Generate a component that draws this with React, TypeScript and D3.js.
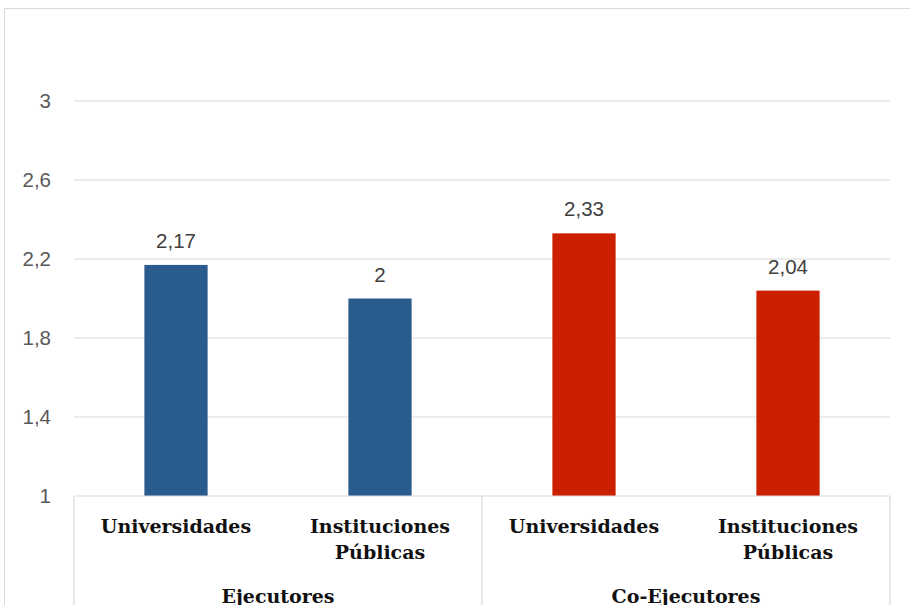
import React from "react";
import * as d3 from "d3";

const groups = ["Ejecutores", "Co-Ejecutores"];
const categories = ["Universidades", "Instituciones Públicas"];
const values = [2.17, 2.0, 2.33, 2.04];
const valueLabels = ["2,17", "2", "2,33", "2,04"];
const colors = ["#2a5b8d", "#2a5b8d", "#cc1f00", "#cc1f00"];
const yTicks = [1, 1.4, 1.8, 2.2, 2.6, 3];
const yTickLabels = ["1", "1,4", "1,8", "2,2", "2,6", "3"];

export default function App() {
  const W = 910, H = 605;
  const left = 74, right = 890, top = 101, bottom = 496;
  const y = d3.scaleLinear().domain([1, 3]).range([bottom, top]);
  const keys = d3.range(values.length).map(String);
  const x = d3.scaleBand().domain(keys).range([left, right]).paddingInner(0).paddingOuter(0);
  const bw = x.bandwidth() * 0.31;
  const groupWidth = (right - left) / groups.length;
  const sans = "'Liberation Sans', Arial, sans-serif";
  const serif = "'DejaVu Serif', 'Liberation Serif', serif";
  return (
    <svg width={W} height={H} style={{ position: "fixed", left: 0, top: 0, background: "#fff" }}>
      <rect x={4.5} y={8.5} width={W + 10} height={H + 10} fill="none" stroke="#d9d9d9" />
      {yTicks.map((t, i) => (
        <g key={t}>
          {i > 0 && <line x1={left} x2={right} y1={y(t)} y2={y(t)} stroke="#d9d9d9" strokeWidth={1.2} />}
          <text x={51} y={y(t)} dy="0.35em" textAnchor="end" fontFamily={sans} fontSize={20.5} fill="#595959">
            {yTickLabels[i]}
          </text>
        </g>
      ))}
      {values.map((v, i) => {
        const cx = (x(String(i)) as number) + x.bandwidth() / 2;
        return (
          <g key={i}>
            <rect x={cx - bw / 2} y={y(v)} width={bw} height={y(1) - y(v)} fill={colors[i]} />
            <text x={cx} y={y(v) - 17} textAnchor="middle" fontFamily={sans} fontSize={20.5} fill="#404040">
              {valueLabels[i]}
            </text>
          </g>
        );
      })}
      <line x1={left} x2={right} y1={bottom} y2={bottom} stroke="#d9d9d9" strokeWidth={1.2} />
      {[0, 1, 2].map((k) => (
        <line key={k} x1={left + k * groupWidth} x2={left + k * groupWidth} y1={bottom} y2={H} stroke="#d9d9d9" strokeWidth={1.2} />
      ))}
      {values.map((_, i) => {
        const cx = (x(String(i)) as number) + x.bandwidth() / 2;
        const label = categories[i % categories.length];
        const words = label.split(" ");
        return (
          <text key={i} textAnchor="middle" fontFamily={serif} fontWeight="bold" fontSize={19} fill="#111">
            {words.map((w, j) => (
              <tspan key={j} x={cx} y={533 + j * 26}>{w}</tspan>
            ))}
          </text>
        );
      })}
      {groups.map((g, k) => (
        <text key={g} x={left + (k + 0.5) * groupWidth} y={603} textAnchor="middle" fontFamily={serif} fontWeight="bold" fontSize={19} fill="#111">
          {g}
        </text>
      ))}
    </svg>
  );
}
